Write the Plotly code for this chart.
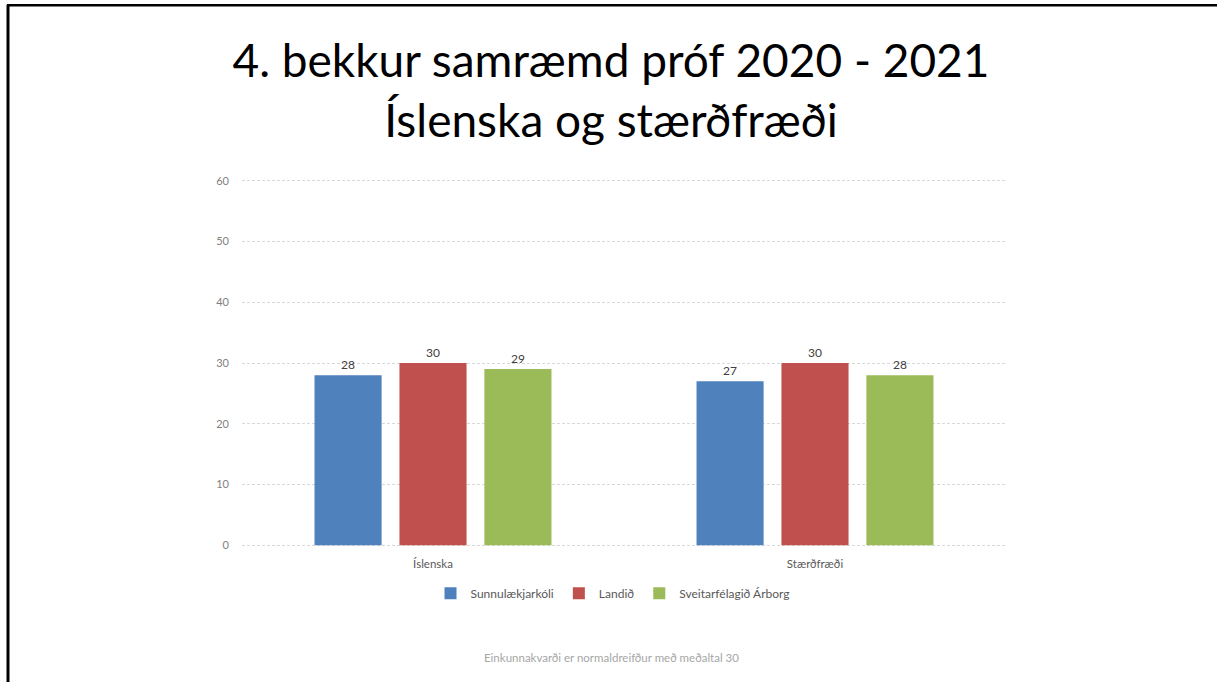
import plotly.graph_objects as go

categories = ["Íslenska", "Stærðfræði"]
series_names = ["Sunnulækjarkóli", "Landið", "Sveitarfélagið Árborg"]
sunnulaekjarskoli = [28, 27]
landid = [30, 30]
arborg = [29, 28]
colors = ["#4F81BD", "#C0504D", "#9BBB59"]
y_ticks = [0, 10, 20, 30, 40, 50, 60]

W, H = 1217, 682
PAD_U = 0.3                      # range padding (axis units) so edge gridlines show
SCALE = (545 - 181) / 60.0       # px per unit
PAD_PX = PAD_U * SCALE
L, R = 242, 1006
T, B = 181 - PAD_PX, 545 + PAD_PX
pw, ph = R - L, B - T
FONT = "Lato, Noto Sans, sans-serif"

fig = go.Figure()
for name, vals, c in zip(series_names, [sunnulaekjarskoli, landid, arborg], colors):
    fig.add_trace(go.Bar(
        x=categories, y=vals, name=name, marker=dict(color=c, line=dict(width=0)),
        text=vals, textposition="outside", cliponaxis=False,
        textfont=dict(family=FONT, size=12, color="#404040"),
    ))

def px(x):
    return (x - L) / pw

def py(y):
    return (B - y) / ph

fig.update_layout(
    width=W, height=H,
    margin=dict(l=L, r=W - R, t=T, b=H - B, autoexpand=False),
    paper_bgcolor="white", plot_bgcolor="white",
    barmode="group", bargap=0.333, bargroupgap=0.21,
    font=dict(family=FONT, color="#595959"),
    title=dict(
        text="4. bekkur samræmd próf 2020 - 2021<br>Íslenska og stærðfræði",
        x=611 / W, xanchor="center", y=1 - 77 / H, yanchor="middle",
        font=dict(family=FONT, size=46, color="#000000"),
    ),
    yaxis=dict(
        range=[-PAD_U, 60 + PAD_U], tickvals=y_ticks, showline=False, zeroline=False,
        gridcolor="#d9d9d9", griddash="3px,2px", gridwidth=1,
        tickfont=dict(size=11, color="#7f7f7f"), ticks="", ticklabelstandoff=12,
    ),
    xaxis=dict(showline=False, ticks="", ticklabelstandoff=8,
               tickfont=dict(size=11.5, color="#595959")),
    legend=dict(
        orientation="h", x=px(613), xanchor="center", y=py(593), yanchor="middle",
        font=dict(size=12, color="#595959"), itemwidth=30, traceorder="normal",
    ),
    showlegend=True,
    annotations=[dict(
        text="Einkunnakvarði er normaldreifður með meðaltal 30",
        xref="paper", yref="paper", x=px(611), y=py(657), xanchor="center", yanchor="middle",
        showarrow=False, font=dict(size=11.5, color="#a6a6a6"),
    )],
    shapes=[
        dict(type="line", xref="paper", yref="paper", x0=px(8), x1=px(8), y0=py(5), y1=py(690),
             line=dict(color="black", width=3)),
        dict(type="line", xref="paper", yref="paper", x0=px(7), x1=px(1230), y0=py(5.5), y1=py(5.5),
             line=dict(color="black", width=2.5)),
    ],
)

fig.write_html("out.html", config={"displayModeBar": False},
               post_script="document.body.style.margin='0';document.body.style.overflow='hidden';")
